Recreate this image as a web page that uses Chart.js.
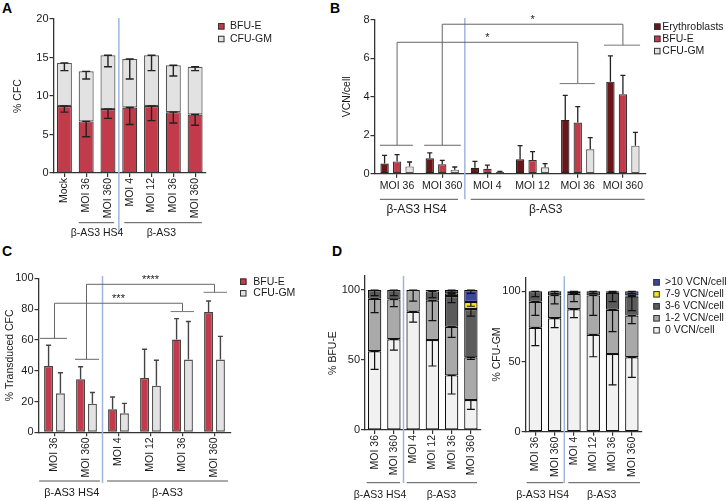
<!DOCTYPE html>
<html><head><meta charset="utf-8">
<script src="https://cdn.jsdelivr.net/npm/chart.js@4.4.0/dist/chart.umd.min.js"></script>
<style>
html,body{margin:0;padding:0;background:#fff;width:726px;height:501px;overflow:hidden;position:relative;}
canvas{position:absolute;}
.pl{position:absolute;font:bold 14px "Liberation Sans",Arial,sans-serif;line-height:14px;color:#000;}
</style></head><body>
<div class="pl" style="left:2px;top:1px">A</div>
<div class="pl" style="left:330px;top:1px">B</div>
<div class="pl" style="left:2px;top:244px">C</div>
<div class="pl" style="left:332px;top:244px">D</div>
<script>
// ---------- DATA ----------
const catsA = ['Mock','MOI 36','MOI 360','MOI 4','MOI 12','MOI 36','MOI 360'];
const bfuA = [8.7, 6.7, 8.3, 8.5, 8.7, 7.9, 7.6];
const bfuAErr = [0.8, 2.0, 1.2, 2.2, 1.9, 1.4, 1.4];
const cfuA = [5.6, 6.5, 7.0, 6.3, 6.6, 6.1, 6.2];
const cfuAErr = [1.0, 1.0, 1.5, 2.6, 2.0, 1.4, 0.5];

const catsMOI = ['MOI 36','MOI 360','MOI 4','MOI 12','MOI 36','MOI 360'];
const groupNames = ['β-AS3 HS4','β-AS3'];

const eryB = [0.53, 0.80, 0.31, 0.75, 2.80, 4.79];
const eryBErr = [0.42, 0.28, 0.33, 0.71, 1.28, 1.34];
const bfuB = [0.64, 0.49, 0.26, 0.71, 2.66, 4.13];
const bfuBErr = [0.35, 0.20, 0.19, 0.44, 0.83, 0.99];
const cfuB = [0.38, 0.21, 0.09, 0.33, 1.27, 1.46];
const cfuBErr = [0.23, 0.14, 0.03, 0.19, 0.61, 0.69];
const sigB = ['*','*'];

const bfuC = [43.1, 34.4, 14.9, 35.3, 60.2, 78.1];
const bfuCErr = [13.4, 8.2, 8.0, 18.6, 13.6, 7.2];
const cfuC = [25.3, 18.6, 12.3, 30.3, 47.2, 47.2];
const cfuCErr = [13.4, 7.2, 6.5, 16.5, 24.7, 15.1];
const sigC = ['***','****'];

const vcnLabels = ['0 VCN/cell','1-2 VCN/cell','3-6 VCN/cell','7-9 VCN/cell','>10 VCN/cell'];
// % BFU-E
const dB0  = [56.2, 64.8, 84.5, 64.3, 39.0, 21.4];
const dB12 = [37.6, 28.5, 15.5, 28.1, 34.8, 30.5];
const dB36 = [6.2, 6.7, 0, 6.6, 21.9, 34.5];
const dB79 = [0, 0, 0, 0, 1.9, 5.0];
const dB10 = [0, 0, 0, 1.0, 2.4, 8.6];
const dB0Err  = [12.9, 7.7, 7.4, 18.6, 13.3, 6.6];
const dB12Err = [10.0, 5.2, 7.9, 14.3, 7.6, 1.4];
const dB36Err = [4.0, 4.0, 0, 4.5, 4.7, 5.0];
const dB79Err = [0, 0, 0, 0, 1.0, 3.0];
const dB10Err = [0, 0, 0, 0, 1.5, 2.4];
// % CFU-GM
const dG0  = [74.1, 80.8, 87.2, 69.1, 55.3, 53.0];
const dG12 = [18.5, 16.3, 11.1, 28.0, 31.6, 29.7];
const dG36 = [7.4, 2.9, 1.7, 2.9, 12.1, 13.5];
const dG79 = [0, 0, 0, 0, 1.0, 0.9];
const dG10 = [0, 0, 0, 0, 0, 2.9];
const dG0Err  = [12.8, 6.7, 6.0, 15.7, 22.0, 14.3];
const dG12Err = [9.7, 6.1, 5.7, 14.2, 15.6, 5.7];
const dG36Err = [3.8, 1.7, 0.8, 1.5, 6.4, 10.0];
const dG79Err = [0, 0, 0, 0, 0.5, 0.5];
const dG10Err = [0, 0, 0, 0, 0, 1.5];

// ---------- STYLE ----------
const FONT = '"Liberation Sans", Arial, Helvetica, sans-serif';
Chart.defaults.font.family = FONT;
Chart.defaults.color = '#1a1a1a';
Chart.defaults.animation = false;
const AX = '#333';
const RED = '#c13b4a', DARKRED = '#6a1518', LIGHT = '#e2e2e2';
const VCOL = ['#f1f1f1', '#a9a9a9', '#5b5b5b', '#f4e31a', '#3a46a0'];
const SEP = '#9fb5df';

// ---------- PLUGIN ----------
const decor = {
  id: 'decor',
  afterDatasetsDraw(chart, args, o) {
    if (!o || !o.cap) return;
    const ctx = chart.ctx, y = chart.scales.y;
    chart.data.datasets.forEach((ds, di) => {
      if (!ds.err) return;
      chart.getDatasetMeta(di).data.forEach((el, i) => {
        const e = ds.err[i];
        if (!e || !ds.data[i]) return;
        const v = y.getValueForPixel(el.y);
        const yEnd = y.getPixelForValue(o.errDown ? v - e : v + e);
        const c = o.cap / 2;
        ctx.save();
        ctx.strokeStyle = o.errColor; ctx.lineWidth = o.errWidth;
        ctx.beginPath();
        ctx.moveTo(el.x, el.y); ctx.lineTo(el.x, yEnd);
        ctx.moveTo(el.x - c, yEnd); ctx.lineTo(el.x + c, yEnd);
        if (o.errDown) { ctx.moveTo(el.x - c, el.y); ctx.lineTo(el.x + c, el.y); }
        ctx.stroke();
        ctx.restore();
      });
    });
  },
  afterDraw(chart, args, o) {
    if (!o || !o.sep) return;
    const ctx = chart.ctx, x = chart.scales.x, y = chart.scales.y, ca = chart.chartArea;
    const X = i => x.getPixelForValue(i);
    const seg = (x1, y1, x2, y2, col, w) => {
      ctx.beginPath(); ctx.strokeStyle = col; ctx.lineWidth = w;
      ctx.moveTo(x1, y1); ctx.lineTo(x2, y2); ctx.stroke();
    };
    ctx.save();
    const sx = X(o.sep.at);
    seg(sx, ca.top + o.sep.top, sx, ca.bottom + o.sep.bottom, SEP, 1.5);
    ctx.font = o.groupFont + 'px ' + FONT;
    ctx.textAlign = 'center'; ctx.textBaseline = 'middle'; ctx.fillStyle = '#1a1a1a';
    o.groups.forEach((g, k) => {
      const gy = ca.bottom + o.groupLine;
      seg(X(g.from), gy, X(g.to), gy, '#555', 1);
      ctx.fillText(groupNames[k], X(g.at), ca.bottom + o.groupText);
    });
    (o.brackets || []).forEach(b => {
      const ya = y.getPixelForValue(b.ya), yb = y.getPixelForValue(b.yb), yt = y.getPixelForValue(b.top);
      const xa = X(b.a), xb = X(b.b);
      seg(X(b.a + b.wa[0]), ya, X(b.a + b.wa[1]), ya, '#666', 1);
      seg(xa, ya, xa, yt, '#666', 1);
      seg(xa, yt, xb, yt, '#666', 1);
      seg(xb, yt, xb, yb, '#666', 1);
      seg(X(b.b + b.wb[0]), yb, X(b.b + b.wb[1]), yb, '#777', 1);
      ctx.font = '11px ' + FONT; ctx.textAlign = 'center'; ctx.textBaseline = 'alphabetic';
      ctx.fillStyle = '#222';
      ctx.fillText(b.text, (xa + xb) / 2, yt - 1);
    });
    const L = o.legend;
    if (L) {
      const dss = chart.data.datasets.slice();
      if (L.reverse) dss.reverse();
      ctx.font = '10.5px ' + FONT; ctx.textAlign = 'left'; ctx.textBaseline = 'middle';
      dss.forEach((ds, k) => {
        const cy = ca.top + L.y0 + k * L.dy;
        const sxl = ca.right + L.dx;
        ctx.fillStyle = ds.backgroundColor;
        ctx.fillRect(sxl, cy - 3.25, 6.5, 6.5);
        ctx.strokeStyle = '#333'; ctx.lineWidth = 1;
        ctx.strokeRect(sxl + 0.5, cy - 2.75, 5.5, 5.5);
        ctx.fillStyle = '#1a1a1a';
        ctx.fillText(ds.label, ca.right + L.tx, cy);
      });
    }
    ctx.restore();
  }
};
Chart.register(decor);

// ---------- HELPERS ----------
function xScale(labels, rot, stacked) {
  return {
    type: 'category', labels: labels, stacked: !!stacked, offset: true,
    grid: { display: true, drawOnChartArea: false, drawTicks: true, tickLength: 4, color: AX, lineWidth: 1.2, offset: false },
    border: { display: true, color: AX, width: 1.3 },
    ticks: { autoSkip: false, maxRotation: rot, minRotation: rot, padding: rot ? 1 : 2, font: { size: 10.5 }, color: '#1a1a1a' }
  };
}
function yScale(max, step, title, stacked, filterTicks) {
  const s = {
    type: 'linear', min: 0, max: max, stacked: !!stacked,
    ticks: { stepSize: step, padding: 1, font: { size: 11 }, color: '#1a1a1a' },
    grid: { drawOnChartArea: false, tickLength: 4, color: AX, lineWidth: 1.2 },
    border: { display: true, color: AX, width: 1.3 },
    title: { display: true, text: title, font: { size: 10.5 }, color: '#1a1a1a', padding: { top: 4, bottom: 4 } }
  };
  if (filterTicks) s.afterBuildTicks = sc => { sc.ticks = sc.ticks.filter(t => t.value % step === 0 && t.value <= 100); };
  return s;
}
function makePanel(box, area, yW, cfg) {
  const cv = document.createElement('canvas');
  cv.width = box.w; cv.height = box.h;
  cv.style.left = box.x + 'px'; cv.style.top = box.y + 'px';
  cv.style.width = box.w + 'px'; cv.style.height = box.h + 'px';
  document.body.appendChild(cv);
  const XH = 48;
  cfg.options.responsive = false;
  cfg.options.devicePixelRatio = 1;
  cfg.options.layout = { padding: {
    left: area.l - box.x - yW, top: area.t - box.y,
    right: box.x + box.w - area.r, bottom: box.y + box.h - area.b - XH } };
  cfg.options.scales.x.afterFit = s => { s.height = XH; s.paddingLeft = s.paddingRight = s.paddingTop = s.paddingBottom = 0; };
  cfg.options.scales.y.afterFit = s => { s.width = yW; s.paddingLeft = s.paddingRight = s.paddingTop = s.paddingBottom = 0; };
  cfg.options.plugins.legend = { display: false };
  cfg.options.plugins.tooltip = { enabled: false };
  return new Chart(cv, cfg);
}
function bar(label, data, err, color, border, bw, cp, bp) {
  return { label, data, err, backgroundColor: color, borderColor: border, borderWidth: bw,
           borderSkipped: false, categoryPercentage: cp, barPercentage: bp };
}

// ---------- PANEL A ----------
makePanel({ x: 0, y: 0, w: 300, h: 245 }, { l: 53.5, t: 19, r: 206, b: 173 }, 45.8, {
  type: 'bar',
  data: { labels: catsA, datasets: [
    bar('BFU-E', bfuA, bfuAErr, RED, '#333', 1.2, 0.8, 0.86),
    bar('CFU-GM', cfuA, cfuAErr, LIGHT, '#555', 1.2, 0.8, 0.86)
  ] },
  options: {
    scales: { x: xScale(catsA, 90, true), y: yScale(20, 5, '% CFC', true) },
    plugins: { decor: {
      cap: 8, errColor: '#222', errWidth: 1.4, errDown: true,
      sep: { at: 2.5, top: -1, bottom: 60 },
      groupFont: 10.5, groupLine: 49.7, groupText: 60,
      groups: [ { from: 0.66, to: 2.28, at: 1.5 }, { from: 2.75, to: 6.31, at: 4.45 } ],
      legend: { dx: 12, tx: 24, y0: 7.3, dy: 12.7 }
    } }
  }
});

// ---------- PANEL B ----------
makePanel({ x: 300, y: 0, w: 426, h: 245 }, { l: 374.5, t: 20, r: 645.5, b: 173.7 }, 38.1, {
  type: 'bar',
  data: { labels: catsMOI, datasets: [
    bar('Erythroblasts', eryB, eryBErr, DARKRED, '#222', 1.2, 0.83, 0.67),
    bar('BFU-E', bfuB, bfuBErr, RED, '#333', 1.2, 0.83, 0.67),
    bar('CFU-GM', cfuB, cfuBErr, LIGHT, '#555', 1.2, 0.83, 0.67)
  ] },
  options: {
    scales: { x: xScale(catsMOI, 0, false), y: yScale(8, 2, 'VCN/cell', false) },
    plugins: { decor: {
      cap: 5, errColor: '#222', errWidth: 1.3, errDown: false,
      sep: { at: 1.5, top: -2, bottom: 25.5 },
      groupFont: 12, groupLine: 25.6, groupText: 36.3,
      groups: [ { from: -0.38, to: 1.35, at: 0.43 }, { from: 1.63, to: 5.48, at: 3.29 } ],
      brackets: [
        { a: 0, b: 4, ya: 1.48, yb: 4.69, top: 6.84, wa: [-0.38, 0.35], wb: [-0.4, 0.38], text: sigB[0] },
        { a: 1, b: 5, ya: 1.48, yb: 6.69, top: 7.78, wa: [-0.4, 0.41], wb: [-0.42, 0.38], text: sigB[1] }
      ],
      legend: { dx: 8.5, tx: 16.8, y0: 6.7, dy: 12.2 }
    } }
  }
});

// ---------- PANEL C ----------
makePanel({ x: -5, y: 245, w: 320, h: 256 }, { l: 38.5, t: 278.3, r: 230.5, b: 432.3 }, 38.8, {
  type: 'bar',
  data: { labels: catsMOI, datasets: [
    bar('BFU-E', bfuC, bfuCErr, RED, '#444', 1.4, 0.74, 0.76),
    bar('CFU-GM', cfuC, cfuCErr, LIGHT, '#555', 1.4, 0.74, 0.76)
  ] },
  options: {
    scales: { x: xScale(catsMOI, 90, false), y: yScale(100, 20, '% Transduced CFC', false) },
    plugins: { decor: {
      cap: 5, errColor: '#444', errWidth: 1.4, errDown: false,
      sep: { at: 1.5, top: -2.3, bottom: 50.7 },
      groupFont: 11, groupLine: 48.7, groupText: 60.7,
      groups: [ { from: -0.48, to: 1.42, at: 0.54 }, { from: 1.64, to: 5.42, at: 3.53 } ],
      brackets: [
        { a: 0, b: 4, ya: 61.0, yb: 78.4, top: 83.8, wa: [-0.45, 0.39], wb: [-0.37, 0.36], text: sigC[0] },
        { a: 1, b: 5, ya: 47.4, yb: 90.9, top: 96.1, wa: [-0.36, 0.39], wb: [-0.34, 0.39], text: sigC[1] }
      ],
      legend: { dx: 9.5, tx: 22.8, y0: 3.4, dy: 11.6 }
    } }
  }
});

// ---------- PANEL D ----------
function vcnSets(d, e) {
  return d.map((arr, k) => bar(vcnLabels[k], arr, e[k], VCOL[k], '#111', 1.2, 0.8, 0.87));
}
makePanel({ x: 318, y: 245, w: 166, h: 256 }, { l: 365, t: 276, r: 480.5, b: 430 }, 42.3, {
  type: 'bar',
  data: { labels: catsMOI, datasets: vcnSets([dB0, dB12, dB36, dB79, dB10], [dB0Err, dB12Err, dB36Err, dB79Err, dB10Err]) },
  options: {
    scales: { x: xScale(catsMOI, 90, true), y: yScale(110, 50, '% BFU-E', true, true) },
    plugins: { decor: {
      cap: 8, errColor: '#111', errWidth: 1.2, errDown: true,
      sep: { at: 1.5, top: 0, bottom: 53 },
      groupFont: 10.5, groupLine: 52.7, groupText: 65,
      groups: [ { from: -0.41, to: 1.32, at: 0.28 }, { from: 1.67, to: 5.32, at: 3.47 } ]
    } }
  }
});
makePanel({ x: 484, y: 245, w: 242, h: 256 }, { l: 525.7, t: 277.3, r: 641.5, b: 431.7 }, 39.3, {
  type: 'bar',
  data: { labels: catsMOI, datasets: vcnSets([dG0, dG12, dG36, dG79, dG10], [dG0Err, dG12Err, dG36Err, dG79Err, dG10Err]) },
  options: {
    scales: { x: xScale(catsMOI, 90, true), y: yScale(110, 50, '% CFU-GM', true, true) },
    plugins: { decor: {
      cap: 8, errColor: '#111', errWidth: 1.2, errDown: true,
      sep: { at: 1.5, top: -1, bottom: 51.3 },
      groupFont: 10.5, groupLine: 51, groupText: 63.3,
      groups: [ { from: -0.45, to: 1.45, at: 0.38 }, { from: 1.71, to: 5.42, at: 3.44 } ],
      legend: { dx: 11.8, tx: 23.5, y0: 5, dy: 12, reverse: true }
    } }
  }
});
</script>
</body></html>
